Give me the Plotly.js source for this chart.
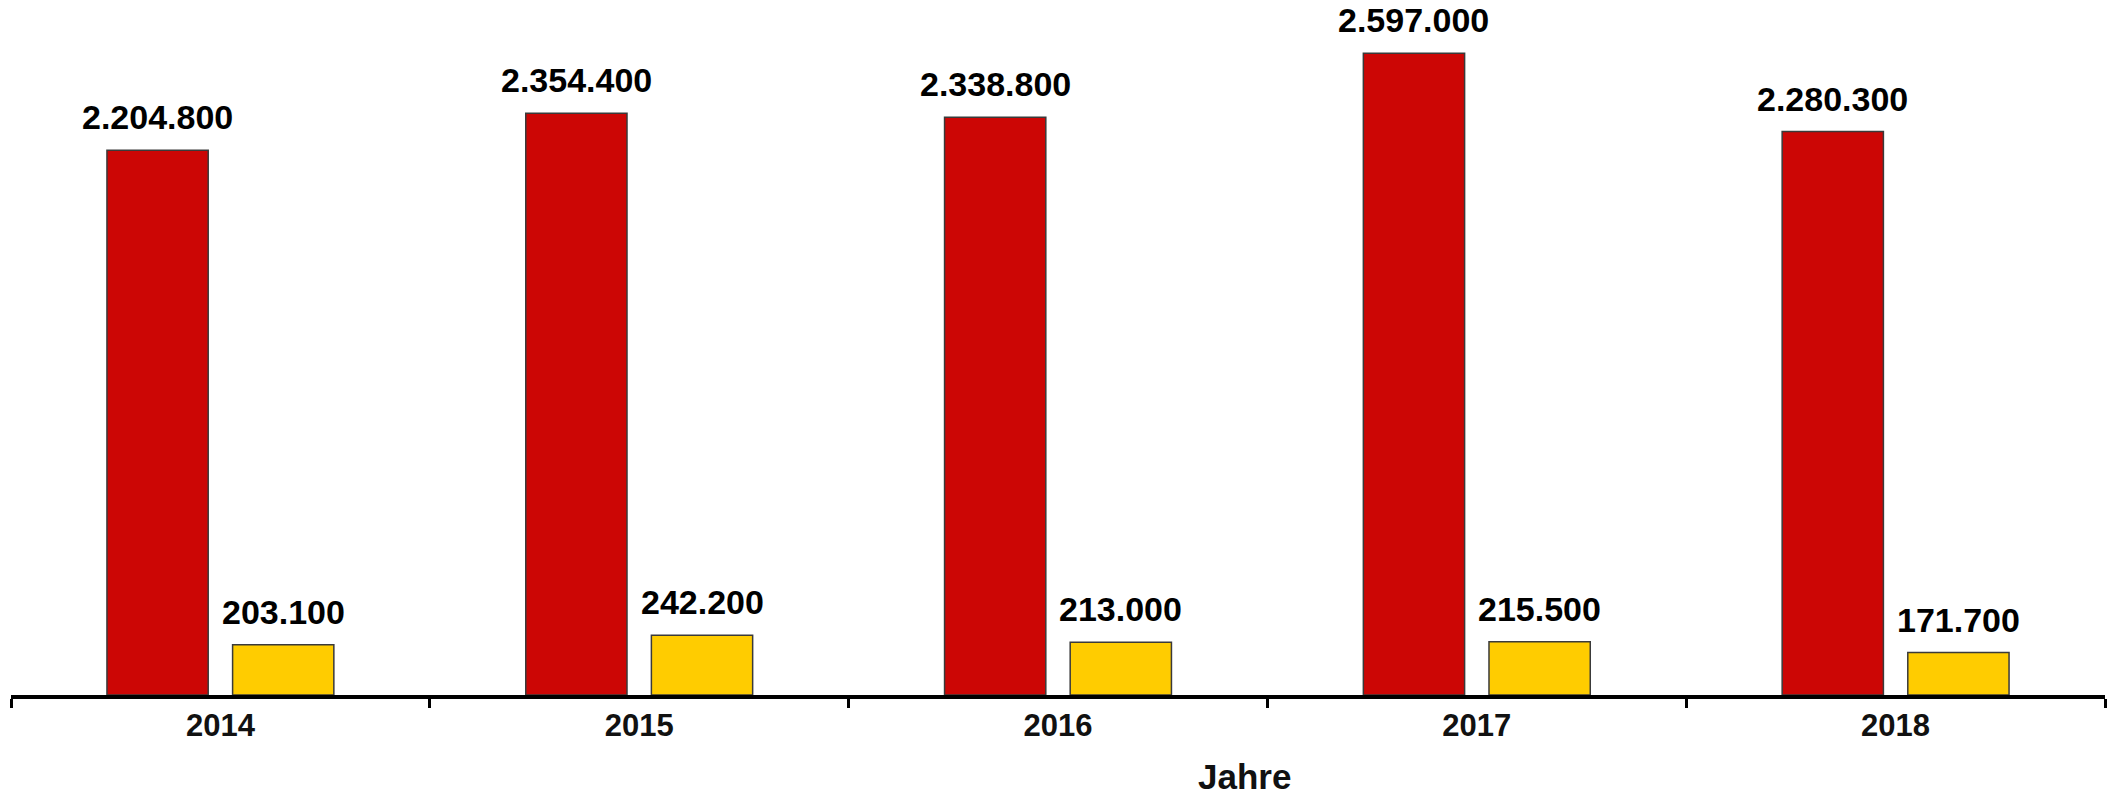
<!DOCTYPE html>
<html>
<head>
<meta charset="utf-8">
<script src="https://cdn.plot.ly/plotly-3.0.1.min.js"></script>
<style>html,body{margin:0;padding:0;background:#fff;}#chart{width:2118px;height:795px;}</style>
</head>
<body>
<div id="chart"></div>
<script>
const years = ["2014", "2015", "2016", "2017", "2018"];
const seriesA = [2204800, 2354400, 2338800, 2597000, 2280300];
const seriesB = [203100, 242200, 213000, 215500, 171700];
const labelsA = ["2.204.800", "2.354.400", "2.338.800", "2.597.000", "2.280.300"];
const labelsB = ["203.100", "242.200", "213.000", "215.500", "171.700"];
const axisTitle = "Jahre";

const FONT = "Liberation Sans, Arial, sans-serif";
const W = 2118, H = 795;
const margin = {l: 11, r: 13, t: 20, b: 100};
const bargap = 0.4, bargroupgap = 0.194;

const traces = [
  {
    type: "bar", x: years, y: seriesA,
    marker: {color: "#CC0605", line: {color: "#3a3a3a", width: 1.5}},
    hoverinfo: "x+y"
  },
  {
    type: "bar", x: years, y: seriesB,
    marker: {color: "#FFCC00", line: {color: "#3a3a3a", width: 1.5}},
    hoverinfo: "x+y"
  }
];

// value labels above each bar, anchored at the data values
const catW = (W - margin.l - margin.r) / years.length;
const off = (1 - bargap) * catW / 4;
const annotations = [];
function addLabels(vals, labels, shift) {
  vals.forEach((v, i) => annotations.push({
    x: i, y: v, xref: "x", yref: "y",
    text: labels[i], showarrow: false,
    xanchor: "center", yanchor: "bottom",
    xshift: shift, yshift: 12,
    font: {family: FONT, size: 34, color: "#000", weight: "bold"}
  }));
}
addLabels(seriesA, labelsA, -off);
addLabels(seriesB, labelsB, off);
annotations.push({
  x: 0.589, y: -(776 - (H - margin.b)) / (H - margin.t - margin.b),
  xref: "paper", yref: "paper",
  text: axisTitle, showarrow: false, xanchor: "center", yanchor: "middle",
  font: {family: FONT, size: 35, color: "#111", weight: "bold"}
});

const layout = {
  width: W, height: H,
  margin: margin,
  paper_bgcolor: "#fff", plot_bgcolor: "#fff",
  showlegend: false,
  barmode: "group",
  bargap: bargap,
  bargroupgap: bargroupgap,
  font: {family: FONT},
  xaxis: {
    type: "category",
    categoryorder: "array", categoryarray: years,
    range: [-0.5, years.length - 0.5],
    showline: true, linecolor: "#000", linewidth: 4,
    ticks: "outside", tickson: "boundaries", ticklen: 9, tickwidth: 3, tickcolor: "#000",
    tickfont: {family: FONT, size: 31, color: "#111", weight: "bold"},
    showgrid: false, zeroline: false
  },
  yaxis: {
    range: [0, 2732000],
    visible: false, showgrid: false, zeroline: false
  },
  annotations: annotations
};

Plotly.newPlot("chart", traces, layout, {displayModeBar: false, staticPlot: true});
</script>
</body>
</html>
